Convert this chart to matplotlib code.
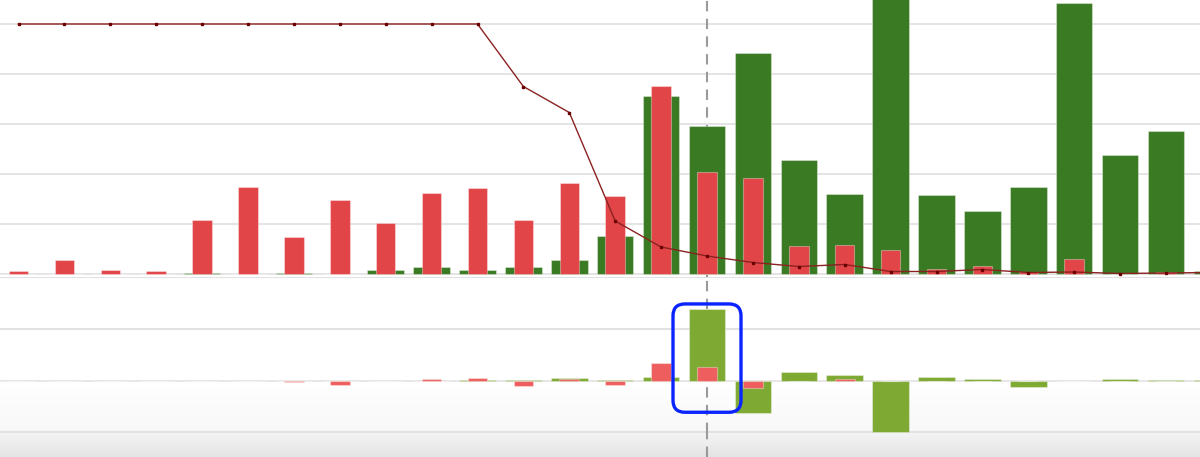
import numpy as np
import matplotlib
matplotlib.use("Agg")
import matplotlib.pyplot as plt
from matplotlib.patches import FancyBboxPatch
from matplotlib.colors import LinearSegmentedColormap

# ---------------- data ----------------
categories = list(range(27))

top_green = [0, 0, 0, 0, 0.03, 0, 0.03, 0, 0.08, 0.14, 0.09, 0.14, 0.29, 0.76,
             3.57, 2.96, 4.43, 2.29, 1.61, 5.8, 1.59, 1.26, 1.75, 5.43, 2.39, 2.87, 0.06]
top_red = [0.06, 0.29, 0.08, 0.06, 1.08, 1.75, 0.75, 1.48, 1.02, 1.63, 1.73, 1.09,
           1.83, 1.57, 3.77, 2.05, 1.93, 0.57, 0.58, 0.49, 0.11, 0.17, 0.05, 0.30,
           0, 0.04, 0]
top_line = [5.0, 5.0, 5.0, 5.0, 5.0, 5.0, 5.0, 5.0, 5.0, 5.0, 5.0, 3.75, 3.23,
            1.06, 0.54, 0.36, 0.23, 0.15, 0.19, 0.05, 0.05, 0.09, 0.03, 0.04,
            0.01, 0.02, 0.03]

bottom_green = [0, 0, 0, 0, 0, 0, 0, 0, 0, 0, 0.01, 0.01, 0.045, 0.01, 0.08,
                1.38, -0.63, 0.17, 0.11, -1.0, 0.08, 0.03, -0.13, 0, 0.03, 0.02, 0.01]
bottom_red = [0, 0, 0, 0, 0, 0, -0.02, -0.08, 0, 0.04, 0.06, -0.1, 0.03, -0.08,
              0.35, 0.27, -0.15, 0, 0.04, 0, 0, 0, 0, 0, 0, 0, 0]

highlight_index = 15

# ---------------- figure ----------------
W, H = 1200, 457
fig = plt.figure(figsize=(W / 100, H / 100), dpi=100)
fig.patch.set_facecolor("white")

x = np.array(categories, dtype=float)
xlim = (-18.5 / 45.9, (W - 18.5) / 45.9)

GREEN = "#3a7a22"
RED = "#e24547"
LGREEN = "#7eaa34"
LRED = "#ee5e5e"
GRID = "#e2e2e2"
DASH = dict(color="#9a9a9a", lw=1.5, dashes=(5, 3.5))


def fr(top_px, bottom_px):
    return [0, (H - bottom_px) / H, 1, (bottom_px - top_px) / H]


# top panel
ax1 = fig.add_axes(fr(0, 277))
ax1.set_xlim(*xlim)
ax1.set_ylim(-0.06, 5.48)
for lvl in range(0, 6):
    ax1.axhline(lvl, color=GRID, lw=1.3, zorder=0)
ax1.axvline(highlight_index, zorder=1, **DASH)
ax1.bar(x, top_green, width=0.795, color=GREEN, edgecolor=(1, 1, 1, 0.35),
        linewidth=0.8, zorder=2)
ax1.bar(x, top_red, width=0.425, color=RED, edgecolor=(1, 1, 1, 0.35),
        linewidth=0.8, zorder=3)
ax1.plot(x, top_line, color="#8b2222", lw=1.0, marker="s", markersize=1.8,
         markerfacecolor="#6a0000", markeredgecolor="#6a0000", zorder=4)
ax1.axis("off")

# bottom panel
ax2 = fig.add_axes(fr(277, 433))
ax2.set_xlim(*xlim)
ax2.set_ylim(-1.01, 2.0)
grad = np.linspace(0, 1, 100).reshape(-1, 1)
cmap_b = LinearSegmentedColormap.from_list("g", ["#ffffff", "#f8f8f8"])
ax2.imshow(grad, extent=(xlim[0], xlim[1], -1.01, 0.0), aspect="auto",
           cmap=cmap_b, zorder=0, origin="upper")
for lvl in (-1, 0, 1, 2):
    ax2.axhline(lvl, color=GRID, lw=1.5 if lvl != 0 else 1.2, zorder=1)
ax2.axvline(highlight_index, zorder=1.5, **DASH)
ax2.bar(x, bottom_green, width=0.795, color=LGREEN, edgecolor=(1, 1, 1, 0.35),
        linewidth=0.8, zorder=2)
ax2.bar(x, bottom_red, width=0.43, color=LRED, edgecolor=(1, 1, 1, 0.35),
        linewidth=0.8, zorder=3)
ax2.axis("off")

# bottom strip
ax3 = fig.add_axes(fr(433, H))
cmap_s = LinearSegmentedColormap.from_list("s", ["#f4f4f4", "#e4e4e4"])
ax3.imshow(grad, extent=(xlim[0], xlim[1], 0, 1), aspect="auto", cmap=cmap_s,
           origin="upper", zorder=0)
ax3.set_xlim(*xlim)
ax3.set_ylim(0, 1)
ax3.axvline(highlight_index, zorder=1, **DASH)
ax3.axis("off")

# overlay in pixel coordinates for the highlight box
ov = fig.add_axes([0, 0, 1, 1], facecolor="none")
ov.set_xlim(0, W)
ov.set_ylim(0, H)
ov.axis("off")

fig.canvas.draw()
cx, _ = ax2.transData.transform((highlight_index, 0))
_, ytop = ax2.transData.transform((highlight_index, 1.48))
_, ybot = ax2.transData.transform((highlight_index, -0.61))

box = FancyBboxPatch((cx - 34, ybot), 68, ytop - ybot,
                     boxstyle="round,pad=0,rounding_size=12",
                     facecolor="none", edgecolor="#0a24ff", lw=2.4, zorder=6)
ov.add_patch(box)

fig.savefig("out.png", dpi=100)
